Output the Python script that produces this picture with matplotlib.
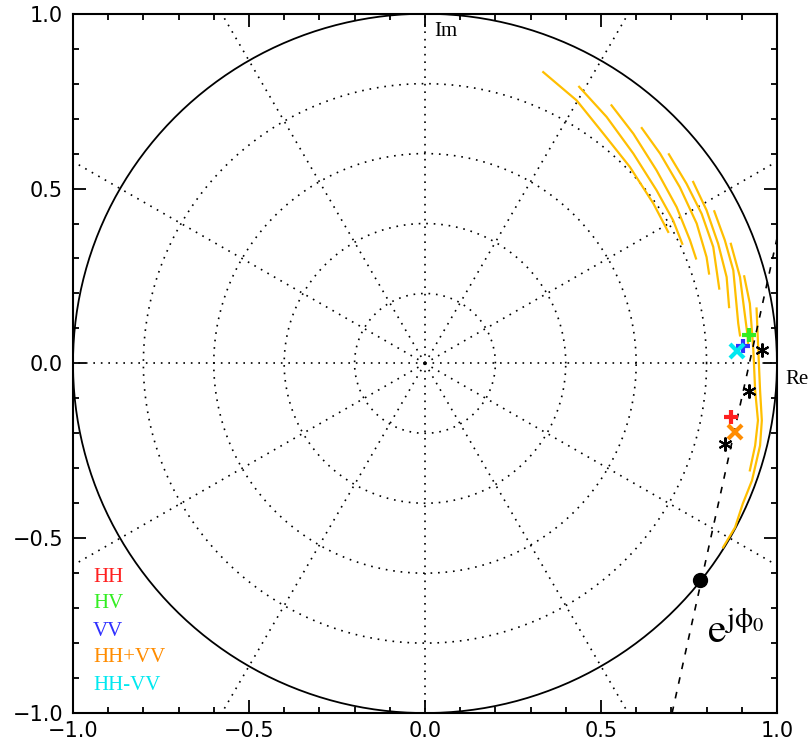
import numpy as np
import matplotlib.pyplot as plt
from matplotlib.ticker import MultipleLocator

# === 数据 ===
# 相干轨迹（黄色曲线），每条为 (实部, 虚部)
loci_re = [
    [0.336, 0.431, 0.507, 0.582, 0.649, 0.691],
    [0.438, 0.516, 0.592, 0.658, 0.705, 0.731],
    [0.530, 0.592, 0.658, 0.715, 0.753, 0.770],
    [0.616, 0.668, 0.724, 0.772, 0.800, 0.807],
    [0.693, 0.743, 0.786, 0.819, 0.836],
    [0.762, 0.800, 0.833, 0.857, 0.864],
    [0.822, 0.852, 0.876, 0.890, 0.895],
    [0.869, 0.895, 0.917, 0.918],
    [0.907, 0.923, 0.933, 0.938, 0.946, 0.938, 0.923],
    [0.942, 0.947, 0.952, 0.957, 0.952, 0.929, 0.903, 0.881, 0.847],
]
loci_im = [
    [0.833, 0.752, 0.657, 0.562, 0.457, 0.376],
    [0.791, 0.705, 0.600, 0.495, 0.409, 0.342],
    [0.738, 0.657, 0.552, 0.447, 0.352, 0.300],
    [0.673, 0.600, 0.504, 0.400, 0.304, 0.257],
    [0.598, 0.514, 0.428, 0.333, 0.214],
    [0.519, 0.438, 0.342, 0.247, 0.161],
    [0.435, 0.352, 0.266, 0.114, 0.080],
    [0.342, 0.247, 0.075, 0.052],
    [0.249, 0.171, 0.037, -0.077, -0.163, -0.235, -0.306],
    [0.157, 0.037, -0.077, -0.163, -0.235, -0.335, -0.401, -0.469, -0.526],
]

# 拟合直线（虚线）
fit_re = [0.702, 1.005]
fit_im = [-1.0, 0.38]

# 黑色星号
star_re = [0.958, 0.920, 0.852]
star_im = [0.037, -0.079, -0.230]

# 极化通道
chan_names = ['HH', 'HV', 'VV', 'HH+VV', 'HH-VV']
chan_colors = ['#ff2020', '#33ee22', '#3030ff', '#ff8c00', '#00e8f0']
chan_markers = ['+', '+', '+', 'x', 'x']
chan_re = [0.868, 0.920, 0.904, 0.881, 0.887]
chan_im = [-0.154, 0.080, 0.050, -0.197, 0.035]

# 地面相位点
ground_re = 0.782
ground_im = -0.620

grid_radii = [0.2, 0.4, 0.6, 0.8]
spoke_angles = np.arange(0, 360, 30)

# === 绘图 ===
plt.rcParams['font.family'] = ['DejaVu Sans']
plt.rcParams['mathtext.fontset'] = 'stix'

fig = plt.figure(figsize=(8.09, 7.42), dpi=100)
ax = fig.add_axes([0.0902, 0.039, 0.8702, 0.9425])

t = np.linspace(0, 2 * np.pi, 400)
dot = (0, (1, 3.5))
for r in grid_radii:
    ax.plot(r * np.cos(t), r * np.sin(t), color='k', lw=1.2, ls=dot)
for a in spoke_angles:
    ang = np.deg2rad(a)
    ax.plot([0, 2 * np.cos(ang)], [0, 2 * np.sin(ang)], color='k', lw=1.2, ls=dot)
ax.plot(np.cos(t), np.sin(t), color='k', lw=1.3)

for re, im in zip(loci_re, loci_im):
    ax.plot(re, im, color='#ffbf00', lw=1.6)

ax.plot(fit_re, fit_im, color='k', lw=1.2, ls=(0, (4, 5)))

ax.plot(star_re, star_im, ls='none', marker=(6, 2, 0), color='k', ms=10, mew=1.5)

for name, c, m, re, im in zip(chan_names, chan_colors, chan_markers, chan_re, chan_im):
    ax.plot(re, im, ls='none', marker=m, color=c, ms=10, mew=3)

ax.plot(ground_re, ground_im, 'o', color='k', ms=10)

# 图例文字
leg_y = [-0.612, -0.687, -0.767, -0.842, -0.922]
for name, c, y in zip(chan_names, chan_colors, leg_y):
    ax.text(-0.943, y, name, color=c, fontsize=15, family='Liberation Serif', va='center')

ax.text(0.026, 0.95, 'Im', fontsize=15, family='Liberation Serif', va='center')
ax.text(1.025, -0.047, 'Re', fontsize=15, family='Liberation Serif', va='center', clip_on=False)
ax.text(0.80, -0.80, r'$\mathrm{e}^{\mathrm{j\phi}_0}$', fontsize=30, va='baseline')

ax.set_xlim(-1, 1)
ax.set_ylim(-1, 1)
ax.xaxis.set_major_locator(MultipleLocator(0.5))
ax.yaxis.set_major_locator(MultipleLocator(0.5))
ax.xaxis.set_minor_locator(MultipleLocator(0.1))
ax.yaxis.set_minor_locator(MultipleLocator(0.1))
ax.tick_params(which='both', direction='in', top=True, right=True, width=1.3, labelsize=15)
ax.tick_params(which='major', length=9.5)
ax.tick_params(which='minor', length=4.5)
ax.tick_params(axis='x', pad=6)
ax.tick_params(axis='y', pad=7)
ax.xaxis.set_major_formatter(plt.FuncFormatter(lambda v, p: f'{v:.1f}'.replace('-', '\u2212')))
ax.yaxis.set_major_formatter(plt.FuncFormatter(lambda v, p: f'{v:.1f}'.replace('-', '\u2212')))
for s in ax.spines.values():
    s.set_linewidth(1.5)

plt.savefig('out.png', dpi=100)
